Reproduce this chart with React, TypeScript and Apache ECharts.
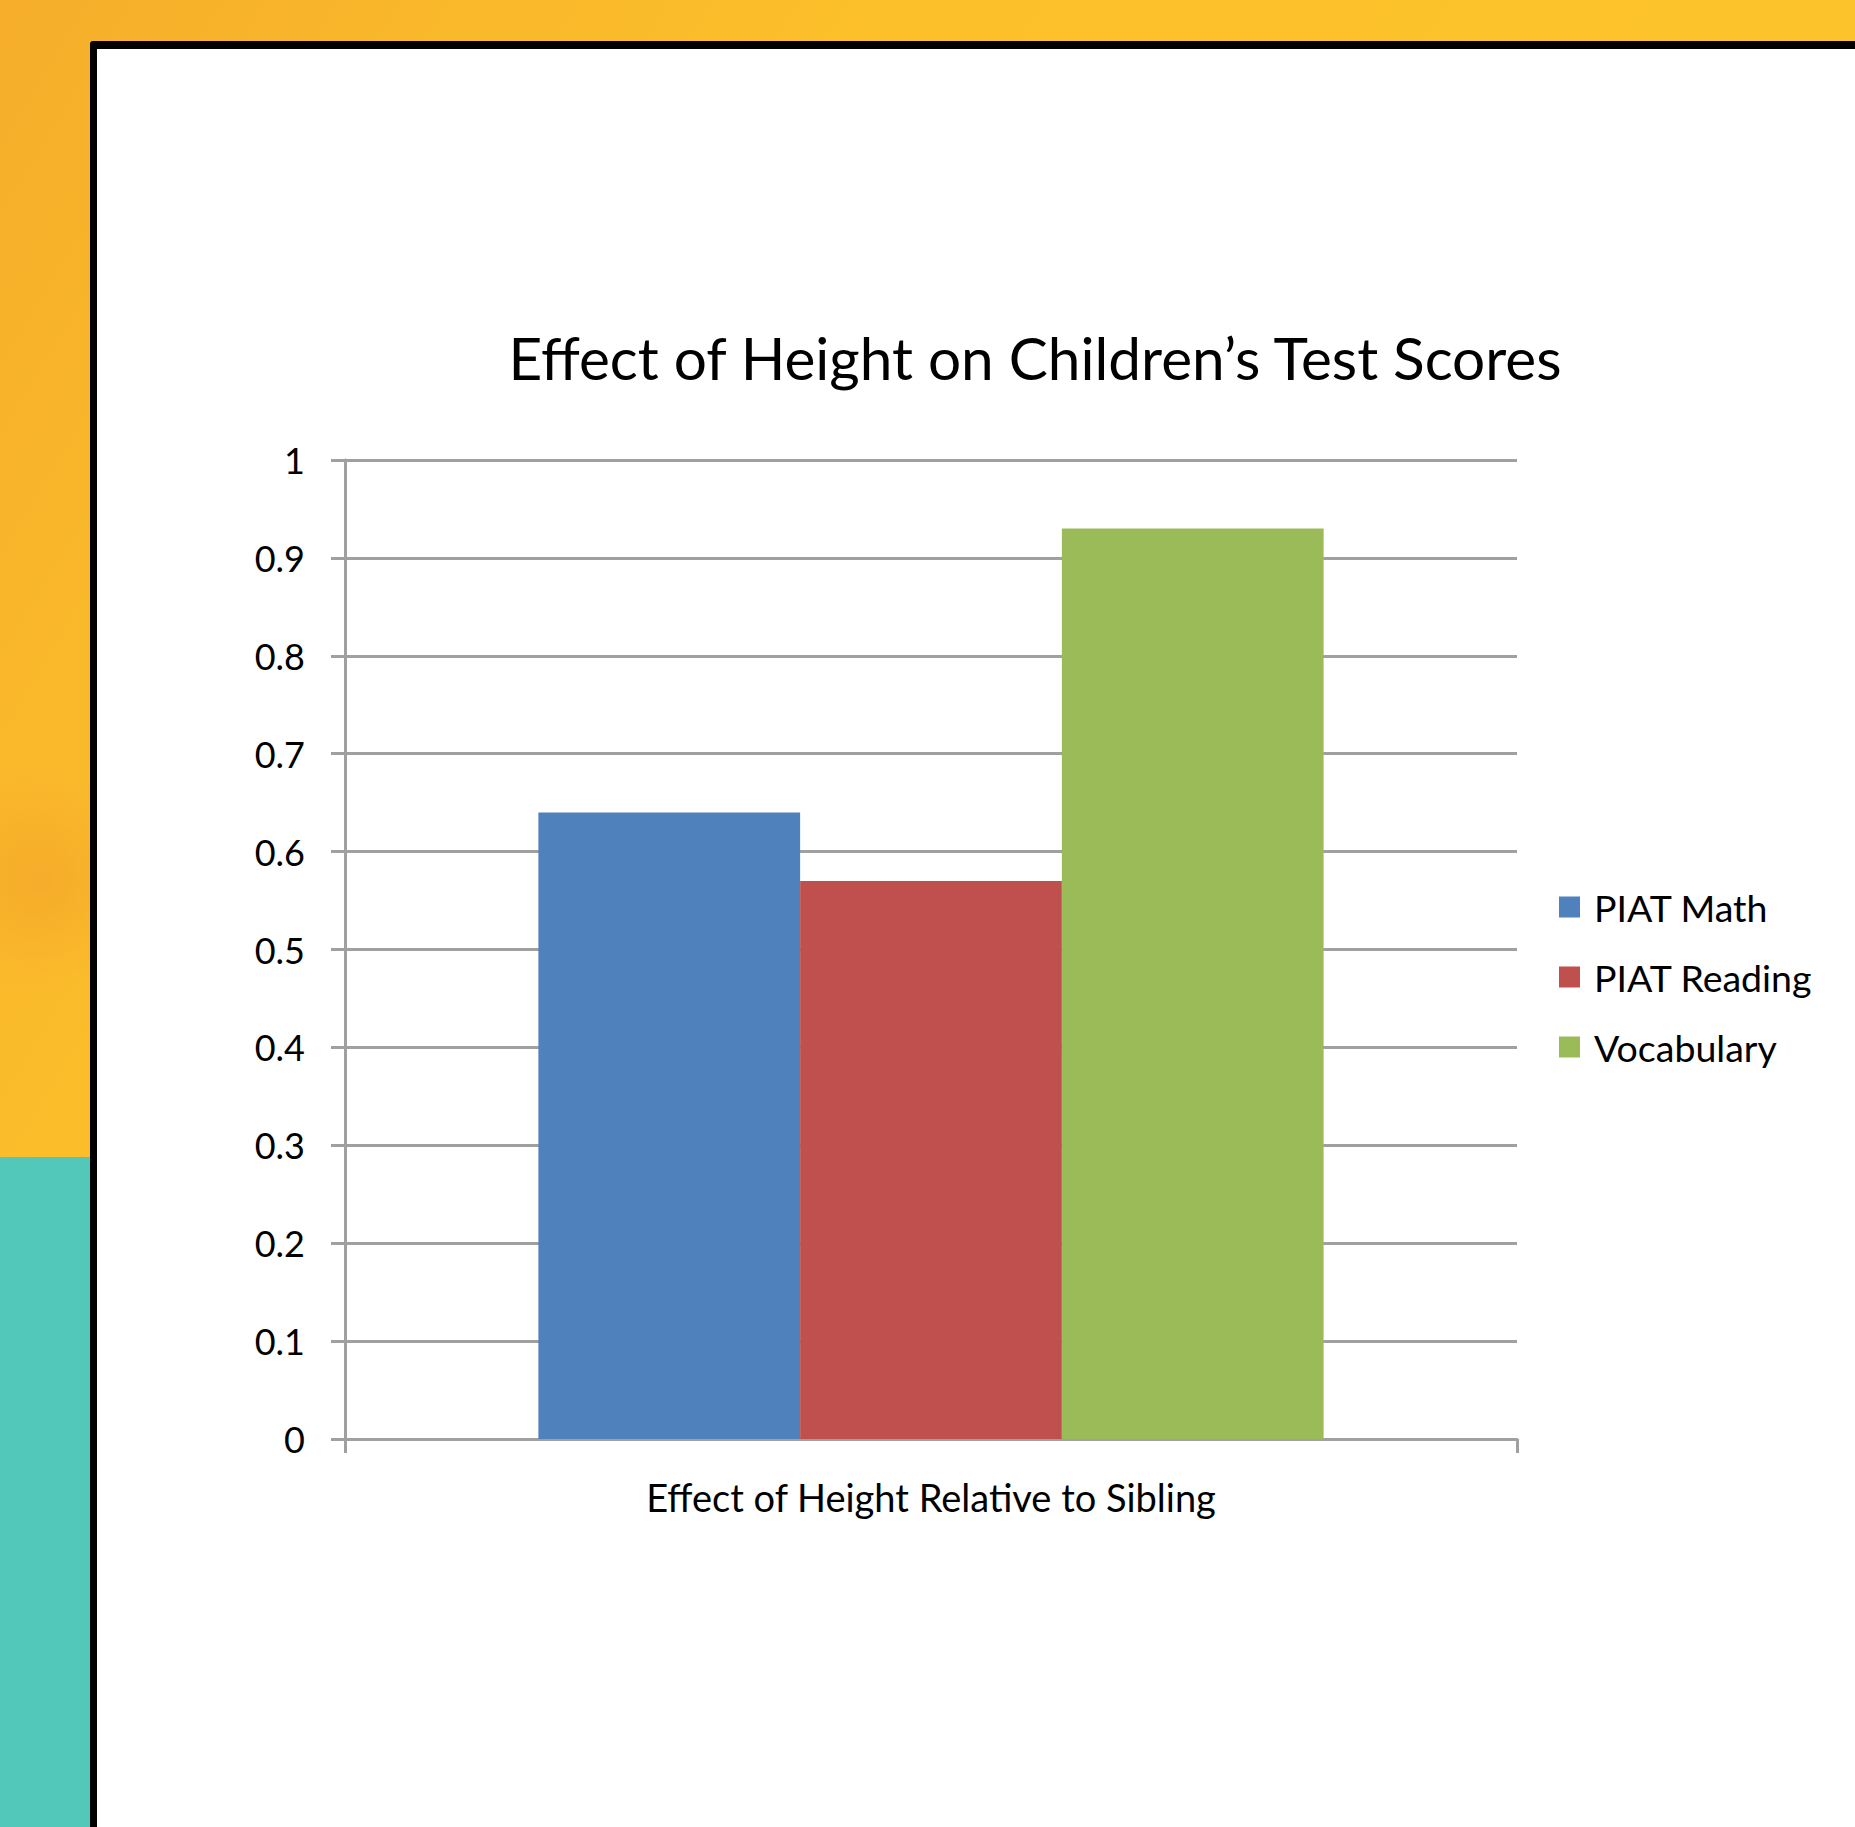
import React, { useEffect, useRef } from "react";
import * as echarts from "echarts";

const categories = ["Effect of Height Relative to Sibling"];
const seriesNames = ["PIAT Math", "PIAT Reading", "Vocabulary"];
const piatMath = [0.64];
const piatReading = [0.57];
const vocabulary = [0.93];
const seriesColors = ["#4F81BD", "#C0504D", "#9BBB59"];
const titleText = "Effect of Height on Children\u2019s Test Scores";

const FONT = "Lato, 'Noto Sans', sans-serif";

export default function App() {
  const ref = useRef<HTMLDivElement>(null);
  useEffect(() => {
    if (!ref.current) return;
    const chart = echarts.init(ref.current, undefined, { renderer: "svg" });
    const values = [piatMath, piatReading, vocabulary];
    chart.setOption({
      animation: false,
      backgroundColor: "#FDC52A",
      textStyle: { fontFamily: FONT },
      graphic: [
        {
          type: "rect",
          z: -10,
          silent: true,
          shape: { x: 0, y: 0, width: 1855, height: 1827 },
          style: {
            fill: new echarts.graphic.LinearGradient(0, 0, 1, 0.6, [
              { offset: 0, color: "#F6AE2B" },
              { offset: 0.35, color: "#FCC02A" },
              { offset: 1, color: "#FEC62A" },
            ]),
          },
        },
        {
          type: "circle",
          z: -9,
          silent: true,
          shape: { cx: 40, cy: 880, r: 110 },
          style: {
            fill: new echarts.graphic.RadialGradient(0.5, 0.5, 0.5, [
              { offset: 0, color: "rgba(246,170,43,0.9)" },
              { offset: 1, color: "rgba(246,170,43,0)" },
            ]),
          },
        },
        {
          type: "rect",
          z: -8,
          silent: true,
          shape: { x: 0, y: 1157, width: 92, height: 700 },
          style: { fill: "#52C8BB" },
        },
        {
          type: "rect",
          z: -7,
          silent: true,
          shape: { x: 90, y: 41, width: 1800, height: 1820, r: 3 },
          style: { fill: "#000000" },
        },
        {
          type: "rect",
          z: -6,
          silent: true,
          shape: { x: 97, y: 49, width: 1800, height: 1820 },
          style: { fill: "#FFFFFF" },
        },
      ],
      title: {
        text: titleText,
        left: 1030,
        top: 322,
        textAlign: "center",
        textStyle: {
          fontFamily: FONT,
          fontSize: 58.5,
          fontWeight: "normal",
          color: "#000000",
        },
      },
      legend: {
        orient: "vertical",
        left: 1554,
        top: 882,
        itemWidth: 21,
        itemHeight: 21,
        itemGap: 30,
        icon: "rect",
        data: seriesNames,
        textStyle: {
          fontFamily: FONT,
          fontSize: 37.5,
          lineHeight: 40,
          color: "#000000",
          padding: [0, 0, 0, 9],
        },
      },
      grid: { left: 345, right: 338, top: 460, bottom: 388, containLabel: false },
      xAxis: {
        type: "category",
        data: categories,
        boundaryGap: true,
        name: categories[0],
        nameLocation: "middle",
        nameGap: 39,
        nameTextStyle: { fontFamily: FONT, fontSize: 38, color: "#000000" },
        axisLine: { show: true, lineStyle: { color: "#A0A0A0", width: 3 } },
        axisTick: { show: true, length: 14, lineStyle: { color: "#A0A0A0", width: 3 } },
        axisLabel: { show: false },
      },
      yAxis: {
        type: "value",
        min: 0,
        max: 1,
        interval: 0.1,
        axisLine: { show: true, lineStyle: { color: "#A0A0A0", width: 3 } },
        axisTick: { show: true, length: 14, lineStyle: { color: "#A0A0A0", width: 3 } },
        splitLine: { show: true, lineStyle: { color: "#A0A0A0", width: 3 } },
        axisLabel: {
          margin: 40,
          fontFamily: FONT,
          fontSize: 36,
          color: "#000000",
          formatter: (v: number) => String(Math.round(v * 10) / 10),
        },
      },
      series: seriesNames.map((name, i) => ({
        name,
        type: "bar",
        data: values[i],
        barGap: "0%",
        barCategoryGap: "33%",
        itemStyle: { color: seriesColors[i] },
      })),
    });
    return () => chart.dispose();
  }, []);
  return (
    <div
      ref={ref}
      style={{ position: "fixed", left: 0, top: 0, width: 1855, height: 1827 }}
    />
  );
}
